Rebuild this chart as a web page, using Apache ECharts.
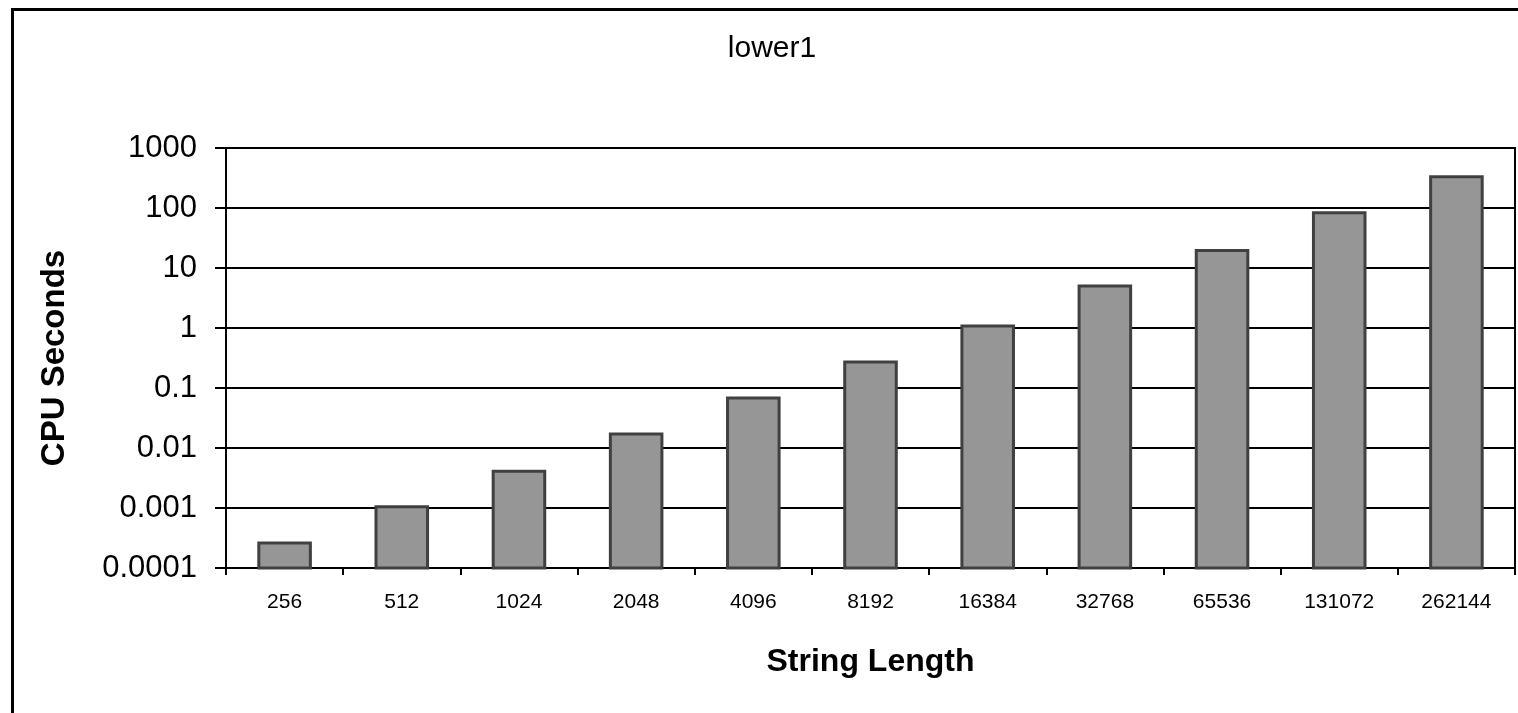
<!DOCTYPE html>
<html>
<head>
<meta charset="utf-8">
<script src="https://cdn.jsdelivr.net/npm/echarts@6/dist/echarts.min.js"></script>
<style>
html,body{margin:0;padding:0;background:#fff;}
#chart{width:1518px;height:713px;}
</style>
</head>
<body>
<div id="chart"></div>
<script>
const categories = ['256','512','1024','2048','4096','8192','16384','32768','65536','131072','262144'];
const cpuSeconds = [0.00026, 0.00105, 0.0041, 0.0171, 0.068, 0.271, 1.08, 5.0, 19.5, 83, 333];
const yTickLabels = ['0.0001','0.001','0.01','0.1','1','10','100','1000'];
const chartTitle = 'lower1';
const xTitle = 'String Length';
const yTitle = 'CPU Seconds';
const yMin = 0.0001, yMax = 1000;

const FONT = "'Liberation Sans', Arial, sans-serif";
const chart = echarts.init(document.getElementById('chart'), null, {renderer:'canvas'});
chart.setOption({
  animation: false,
  backgroundColor: '#fff',
  title: {
    text: chartTitle,
    left: 767, top: 29, textAlign: 'center',
    textStyle: {fontFamily: FONT, fontSize: 30, fontWeight: 'normal', color: '#000'}
  },
  graphic: [{
    type: 'rect', left: 10, top: 7, silent: true,
    shape: {x: 0, y: 0, width: 1600, height: 800},
    style: {fill: 'none', stroke: '#000', lineWidth: 3}
  }],
  grid: {
    left: 226, right: 3, top: 148, bottom: 145,
    show: true, borderColor: '#000', borderWidth: 2, backgroundColor: 'transparent'
  },
  xAxis: {
    type: 'category',
    data: categories,
    name: xTitle,
    nameLocation: 'middle',
    nameGap: 78,
    nameTextStyle: {fontFamily: FONT, fontSize: 32, fontWeight: 'bold', color: '#000'},
    axisLine: {show: true, lineStyle: {color: '#000', width: 2}},
    axisTick: {show: true, alignWithLabel: false, length: 7, lineStyle: {color: '#000', width: 2}},
    axisLabel: {fontFamily: FONT, fontSize: 21, color: '#000', margin: 24, interval: 0},
    splitLine: {show: false}
  },
  yAxis: {
    type: 'log',
    logBase: 10,
    min: yMin,
    max: yMax,
    name: yTitle,
    nameLocation: 'middle',
    nameGap: 155,
    nameRotate: 90,
    nameTextStyle: {fontFamily: FONT, fontSize: 33, fontWeight: 'bold', color: '#000'},
    axisLine: {show: true, lineStyle: {color: '#000', width: 2}},
    axisTick: {show: true, length: 11, lineStyle: {color: '#000', width: 2}},
    axisLabel: {
      fontFamily: FONT, fontSize: 31, color: '#000', margin: 29,
      formatter: function (v) {
        const i = Math.round(Math.log10(v)) + 4;
        return yTickLabels[i] !== undefined ? yTickLabels[i] : '';
      }
    },
    splitLine: {show: true, lineStyle: {color: '#000', width: 2}}
  },
  series: [{
    type: 'custom',
    data: cpuSeconds.map((v, i) => [i, v]),
    encode: {x: 0, y: 1},
    renderItem: function (params, api) {
      const idx = api.value(0);
      const top = api.coord([idx, api.value(1)]);
      const base = api.coord([idx, yMin]);
      const w = api.size([1, 1])[0] * 0.44;
      return {
        type: 'rect',
        shape: {x: top[0] - w / 2, y: top[1], width: w, height: base[1] - top[1]},
        style: {fill: '#969696', stroke: '#404040', lineWidth: 3}
      };
    }
  }]
});
</script>
</body>
</html>
